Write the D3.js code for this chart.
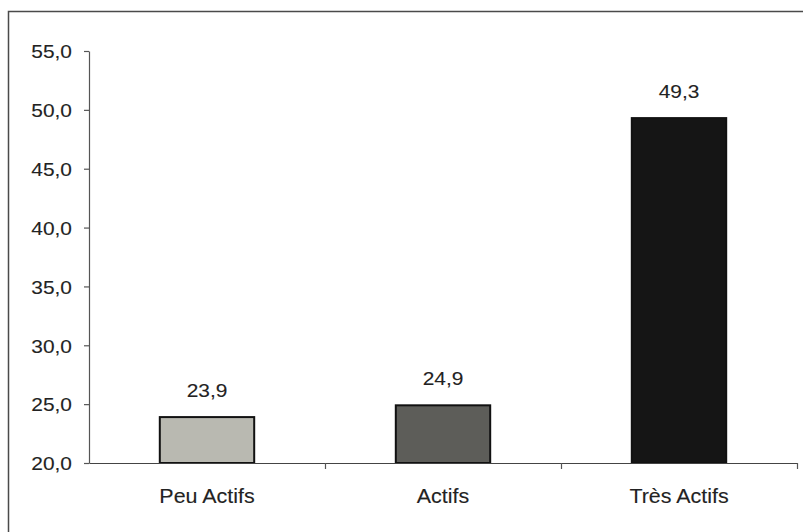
<!DOCTYPE html>
<html>
<head>
<meta charset="utf-8">
<script src="https://cdn.jsdelivr.net/npm/d3@7"></script>
<style>
  html, body { margin: 0; padding: 0; background: #ffffff; }
  svg { display: block; }
  text { font-family: "Liberation Sans", Arial, sans-serif; fill: #222; stroke: #333; stroke-width: 0.12px; }
</style>
</head>
<body>
<script>
// Activity groups and their values
const categories = ["Peu Actifs", "Actifs", "Très Actifs"];
const values = [23.9, 24.9, 49.3];
const barColors = ["#b9b9b1", "#5d5d59", "#151515"];
const yTicks = [20, 25, 30, 35, 40, 45, 50, 55];

const W = 803, H = 532;
const textStretch = 1.1; // wide glyphs of the original typeface
const fmt = d => d.toFixed(1).replace(".", ",");

const svg = d3.select("body").append("svg")
  .attr("width", W).attr("height", H);

// outer frame (top and left edges)
svg.append("path")
  .attr("d", "M8.5,532 V11.5 H803")
  .attr("fill", "none")
  .attr("stroke", "#4a4a4a")
  .attr("stroke-width", 1.5);

const plot = { left: 89, right: 797, top: 51, bottom: 463 };

const y = d3.scaleLinear().domain([20, 55]).range([plot.bottom, plot.top]);
const x = d3.scaleBand().domain(categories).range([plot.left, plot.right])
  .paddingInner(0).paddingOuter(0);
const xEdge = d3.scaleLinear().domain([0, categories.length]).range([plot.left, plot.right]);

const barW = x.bandwidth() * 0.4;

// bars
svg.append("g").selectAll("rect")
  .data(categories)
  .join("rect")
  .attr("x", d => x(d) + (x.bandwidth() - barW) / 2)
  .attr("y", (d, i) => y(values[i]))
  .attr("width", barW)
  .attr("height", (d, i) => y(20) - y(values[i]))
  .attr("fill", (d, i) => barColors[i])
  .attr("stroke", "#111")
  .attr("stroke-width", 2);

// y axis
const yAxis = svg.append("g")
  .attr("transform", `translate(${plot.left},0)`)
  .call(d3.axisLeft(y).tickValues(yTicks).tickFormat(fmt).tickSize(5).tickSizeOuter(0));
yAxis.select(".domain").attr("stroke", "#555").attr("stroke-width", 1.2);
yAxis.selectAll(".tick line").attr("stroke", "#555").attr("stroke-width", 1.2);
yAxis.selectAll(".tick text")
  .attr("x", null).attr("dy", "0.36em")
  .attr("transform", `translate(-17,0) scale(${textStretch},1)`)
  .attr("font-size", 19)
  .attr("font-family", "Liberation Sans, Arial, sans-serif")
  .attr("fill", "#222");

// x axis with tick marks between categories
const xAxis = svg.append("g")
  .attr("transform", `translate(0,${plot.bottom})`)
  .call(d3.axisBottom(xEdge).tickValues(d3.range(1, categories.length + 1))
    .tickFormat("").tickSize(6).tickSizeOuter(0));
xAxis.select(".domain").attr("stroke", "#444").attr("stroke-width", 1.2);
xAxis.selectAll(".tick line").attr("stroke", "#555").attr("stroke-width", 1.2);

// category labels
svg.append("g").selectAll("text")
  .data(categories)
  .join("text")
  .attr("transform", d => `translate(${x(d) + x.bandwidth() / 2},${plot.bottom + 40}) scale(${textStretch},1)`)
  .attr("text-anchor", "middle")
  .attr("font-size", 19.5)
  .text(d => d);

// value labels above bars
svg.append("g").selectAll("text")
  .data(categories)
  .join("text")
  .attr("transform", (d, i) => `translate(${x(d) + x.bandwidth() / 2},${y(values[i]) - 20}) scale(${textStretch},1)`)
  .attr("text-anchor", "middle")
  .attr("font-size", 19)
  .text((d, i) => fmt(values[i]));
</script>
</body>
</html>
